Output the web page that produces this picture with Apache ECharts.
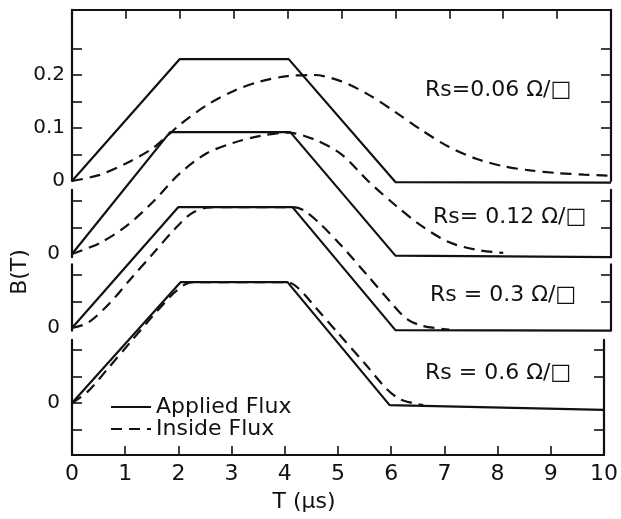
<!DOCTYPE html>
<html>
<head>
  <meta charset="utf-8">
  <script src="https://cdn.jsdelivr.net/npm/echarts@6.0.0/dist/echarts.min.js"></script>
  <style>
    body { margin: 0; padding: 0; background: #fff; }
    #chart { width: 621px; height: 519px; }
  </style>
</head>
<body>
  <div id="chart"></div>
  <script>
    // panel labels (top to bottom)
    const panelLabels = ['Rs=0.06 Ω/□', 'Rs= 0.12 Ω/□', 'Rs = 0.3 Ω/□', 'Rs = 0.6 Ω/□'];

    // applied flux (solid), time in us, B in T
    const appliedT1 = [0, 2.0, 4.02, 6.0, 10];
    const appliedB1 = [0, 0.23, 0.23, -0.002, -0.003];
    const appliedT2 = [0, 1.82, 4.05, 6.0, 10];
    const appliedB2 = [0, 0.23, 0.23, -0.003, -0.006];
    const appliedT3 = [0, 1.97, 4.09, 6.0, 10];
    const appliedB3 = [0, 0.228, 0.228, -0.004, -0.005];
    const appliedT4 = [0, 2.04, 4.05, 5.97, 10];
    const appliedB4 = [0, 0.228, 0.228, -0.004, -0.013];

    // inside flux (dashed)
    const insideT1 = [0, 0.5, 1.0, 1.5, 2.0, 2.5, 3.0, 3.5, 4.0, 4.5, 5.0, 5.5, 6.0, 6.5, 7.0, 7.5, 8.0, 8.5, 9.0, 9.5, 10];
    const insideB1 = [0, 0.011, 0.033, 0.062, 0.106, 0.143, 0.17, 0.188, 0.198, 0.2, 0.188, 0.163, 0.13, 0.095, 0.064, 0.042, 0.028, 0.02, 0.015, 0.012, 0.01];
    const insideT2 = [0, 0.5, 1.0, 1.5, 2.0, 2.5, 3.0, 3.5, 4.0, 4.5, 5.0, 5.5, 6.0, 6.5, 7.0, 7.5, 8.0];
    const insideB2 = [0, 0.02, 0.052, 0.098, 0.152, 0.19, 0.21, 0.223, 0.229, 0.216, 0.188, 0.137, 0.092, 0.052, 0.022, 0.008, 0.002];
    const insideT3 = [0, 0.3, 0.7, 1.1, 1.5, 1.9, 2.2, 2.5, 2.8, 4.1, 4.3, 4.6, 5.0, 5.5, 5.9, 6.2, 6.5, 7.0];
    const insideB3 = [0, 0.01, 0.047, 0.094, 0.14, 0.186, 0.215, 0.227, 0.228, 0.228, 0.222, 0.197, 0.155, 0.097, 0.05, 0.018, 0.004, -0.003];
    const insideT4 = [0, 0.3, 0.7, 1.1, 1.5, 1.9, 2.15, 2.35, 4.05, 4.25, 4.6, 5.0, 5.5, 5.9, 6.15, 6.4, 6.6];
    const insideB4 = [0, 0.022, 0.068, 0.115, 0.162, 0.206, 0.225, 0.228, 0.228, 0.217, 0.178, 0.132, 0.075, 0.028, 0.008, 0, -0.004];

    // y ranges per panel and tick values
    const yMin = [0, -0.006, -0.005, -0.098];
    const yMax = [0.323, 0.121, 0.12, 0.119];
    const leftTicks = [[0.05, 0.1, 0.15, 0.2, 0.25], [0.05, 0.1], [0.05, 0.1], [-0.05, 0, 0.05, 0.1]];
    const rightTicks = [[0.05, 0.1, 0.15, 0.2, 0.25], [0.05, 0.1], [0.05, 0.1], [-0.05, 0.05, 0.1]];
    const yLabels = [[0, 0.1, 0.2], [0], [0], [0]];

    const applied = [[appliedT1, appliedB1], [appliedT2, appliedB2], [appliedT3, appliedB3], [appliedT4, appliedB4]];
    const inside = [[insideT1, insideB1], [insideT2, insideB2], [insideT3, insideB3], [insideT4, insideB4]];

    const ink = '#111';
    const font = 'DejaVu Sans';
    const pxPerT = 530;
    const baselines = [181, 254, 328, 403];

    const zip = (t, b) => t.map((v, i) => [v, b[i]]);

    const grids = [];
    const xAxes = [];
    const yAxes = [];
    const series = [];

    for (let i = 0; i < 4; i++) {
      grids.push({
        left: 72,
        right: 10,
        top: baselines[i] - yMax[i] * pxPerT,
        height: (yMax[i] - yMin[i]) * pxPerT
      });
      const isTop = i === 0;
      const isBottom = i === 3;
      xAxes.push({
        gridIndex: i,
        type: 'value',
        min: 0,
        max: 10,
        interval: 1,
        show: isTop || isBottom,
        position: isTop ? 'top' : 'bottom',
        axisLine: { onZero: false, lineStyle: { color: ink, width: 2.2 } },
        axisTick: { inside: true, length: 9, lineStyle: { color: ink, width: 1.6 } },
        axisLabel: {
          show: isBottom,
          margin: 8,
          color: ink,
          fontSize: 22,
          fontFamily: font
        },
        splitLine: { show: false }
      });
      ['left', 'right'].forEach(side => {
        const left = side === 'left';
        yAxes.push({
          gridIndex: i,
          type: 'value',
          position: side,
          min: yMin[i],
          max: yMax[i],
          axisLine: { show: true, onZero: false, lineStyle: { color: ink, width: 2.2 } },
          axisTick: {
            show: true,
            inside: true,
            length: 10,
            customValues: left ? leftTicks[i] : rightTicks[i],
            lineStyle: { color: ink, width: 1.6 }
          },
          axisLabel: {
            show: left,
            customValues: yLabels[i],
            margin: i === 0 ? 7 : 12,
            color: ink,
            fontSize: 20,
            fontFamily: font,
            formatter: v => (v === 0 ? '0' : v.toFixed(1))
          },
          splitLine: { show: false }
        });
      });

      series.push({
        name: 'Applied Flux',
        type: 'line',
        xAxisIndex: i,
        yAxisIndex: i * 2,
        data: zip(applied[i][0], applied[i][1]),
        symbol: 'none',
        clip: false,
        lineStyle: { color: ink, width: 2.2 },
        itemStyle: { color: ink }
      });
      series.push({
        name: 'Inside Flux',
        type: 'line',
        xAxisIndex: i,
        yAxisIndex: i * 2,
        data: zip(inside[i][0], inside[i][1]),
        symbol: 'none',
        smooth: 0.3,
        clip: false,
        lineStyle: { color: ink, width: 2.2, type: [11, 7] },
        itemStyle: { color: ink }
      });
    }

    const labelPos = [[425, 90], [433, 217], [430, 295], [425, 373]];
    const graphics = panelLabels.map((txt, i) => ({
      type: 'text',
      x: labelPos[i][0],
      y: labelPos[i][1],
      style: {
        text: txt,
        fill: ink,
        font: '22px "DejaVu Sans"',
        verticalAlign: 'middle'
      }
    }));
    graphics.push({
      type: 'text',
      x: 20,
      y: 272,
      rotation: Math.PI / 2,
      style: {
        text: 'B(T)',
        fill: ink,
        font: '22px "DejaVu Sans"',
        align: 'center',
        verticalAlign: 'middle'
      }
    });
    graphics.push({
      type: 'text',
      x: 304,
      y: 502,
      style: {
        text: 'T (μs)',
        fill: ink,
        font: '22px "DejaVu Sans"',
        align: 'center',
        verticalAlign: 'middle'
      }
    });

    const chart = echarts.init(document.getElementById('chart'));
    chart.setOption({
      animation: false,
      backgroundColor: '#fff',
      grid: grids,
      xAxis: xAxes,
      yAxis: yAxes,
      legend: {
        data: ['Applied Flux', 'Inside Flux'],
        orient: 'vertical',
        left: 105,
        top: 391,
        itemWidth: 40,
        itemHeight: 14,
        itemGap: 0,
        itemStyle: { opacity: 0 },
        textStyle: { color: ink, fontSize: 22, fontFamily: font, lineHeight: 22 }
      },
      graphic: graphics,
      series: series
    });
  </script>
</body>
</html>
